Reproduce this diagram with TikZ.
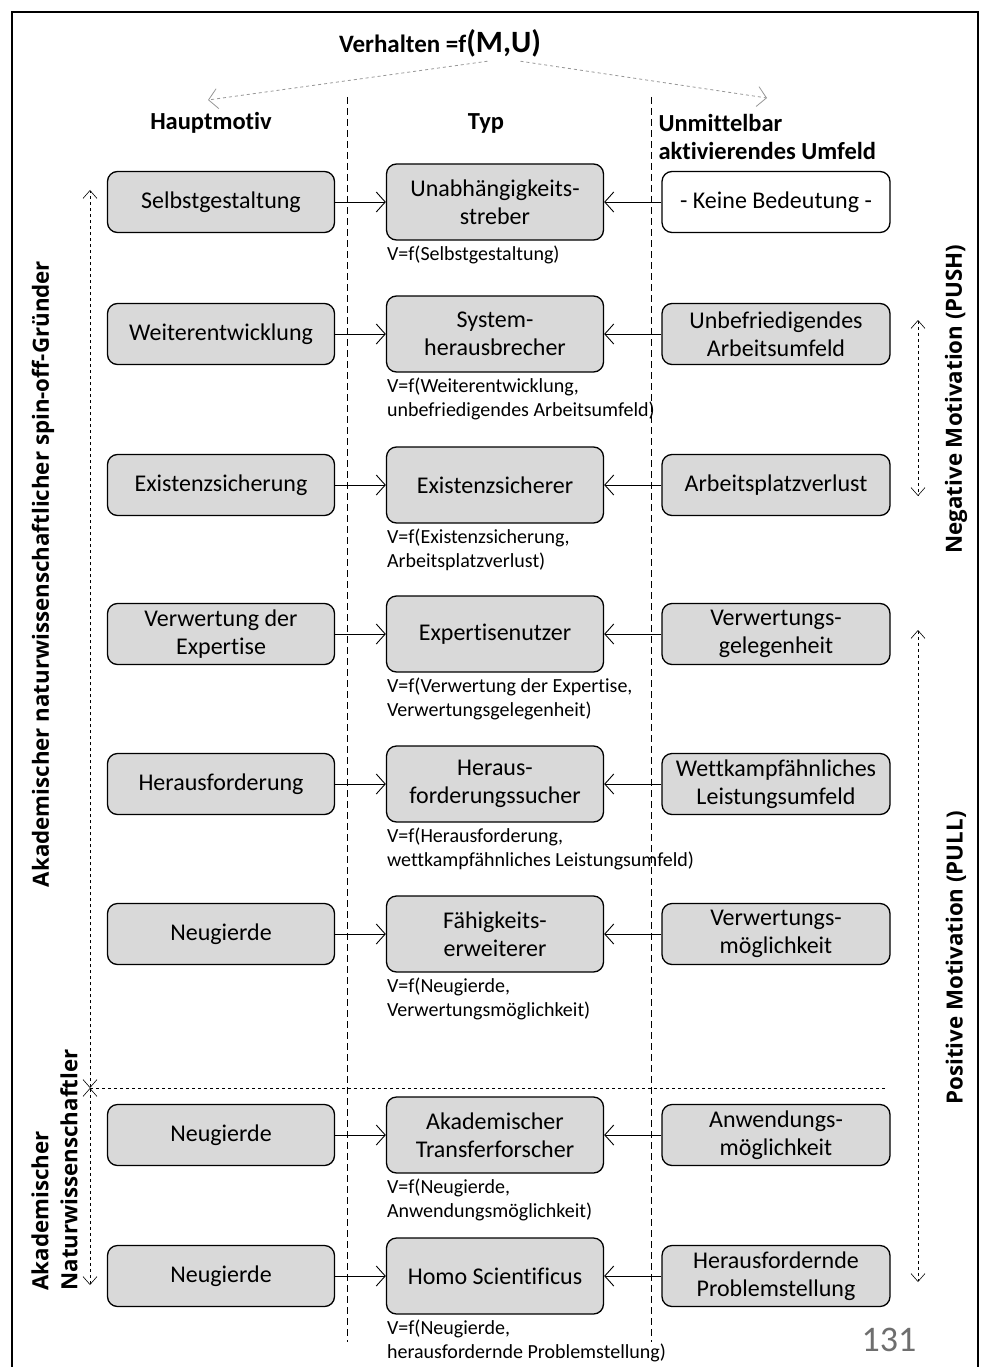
\documentclass[tikz,border=0pt]{standalone}
\usepackage{fontspec}
\setmainfont{Carlito}[Ligatures=NoCommon]
\newfontfamily\sidefont{Open Sans}
\usepackage{tikz}
\usetikzlibrary{arrows.meta, positioning}
\definecolor{boxgray}{RGB}{217, 217, 217}
\definecolor{hintgray}{RGB}{150, 150, 150}
\definecolor{pagegray}{RGB}{110, 110, 110}

\tikzset{
  motivbox/.style={draw, fill=boxgray, rounded corners=10pt, minimum width=227pt, minimum height=61pt,
    align=center, line width=1.3pt, font=\fontsize{24}{28}\selectfont},
  typbox/.style={motivbox, minimum width=217pt, minimum height=76pt},
  formula/.style={align=left, inner sep=0pt, font=\fontsize{20}{24}\selectfont},
  head/.style={font=\fontsize{24.5}{28}\selectfont\bfseries},
  sidelabel/.style={rotate=90, font=\sidefont\bfseries\fontsize{22.3}{29}\selectfont},
  feed/.style={-{Straight Barb[length=9pt, width=20pt]}, line width=0.9pt},
  rangearrow/.style={{Straight Barb[length=8pt, width=14pt]}-{Straight Barb[length=8pt, width=14pt]},
    dashed, line width=0.6pt},
  colsep/.style={dash pattern=on 7pt off 4pt, line width=0.6pt},
}

\begin{document}
\begin{tikzpicture}[x=1pt, y=-1pt]
  \useasboundingbox (0,0) rectangle (990,1367);
  % frame
  \draw[line width=1.5pt] (12,1367) -- (12,12) -- (978,12) -- (978,1367);

  % title and column heads
  \node[font=\fontsize{25}{30}\selectfont\bfseries, anchor=base] (title) at (440,53)
    {Verhalten =f{\fontsize{31}{32}\selectfont(M,U)}};
  \coordinate (motivtip) at (208,100);
  \coordinate (umfeldtip) at (767,98);
  \draw[feed, hintgray, dashed, line width=0.8pt] ([xshift=-57pt]title.south east) -- (motivtip);
  \draw[feed, hintgray, dashed, line width=0.8pt] ([xshift=-24pt]title.south east) -- (umfeldtip);
  \node[head, anchor=base] (hmotiv) at (211,130) {Hauptmotiv};
  \node[head, anchor=base] (htyp) at (486,130) {Typ};
  \node[head, anchor=west, align=left] (humfeld) at (655,137) {Unmittelbar\\aktivierendes Umfeld};

  % column separators
  \coordinate (sepAtop) at (347,97);
  \coordinate (sepAbot) at (347,1342);
  \coordinate (sepBtop) at (651,97);
  \coordinate (sepBbot) at (651,1342);
  \draw[colsep] (sepAtop) -- (sepAbot);
  \draw[colsep] (sepBtop) -- (sepBbot);

  % rows
  \foreach \i/\y/\motiv/\typ/\umfeld/\ufill/\formel in {
    1/202/Selbstgestaltung/{Unabhängigkeits-\\streber}/{- Keine Bedeutung -}/white/{V=f(Selbstgestaltung)},
    2/334/Weiterentwicklung/{System-\\herausbrecher}/{Unbefriedigendes\\Arbeitsumfeld}/boxgray/{V=f(Weiterentwicklung,\\unbefriedigendes Arbeitsumfeld)},
    3/485/Existenzsicherung/Existenzsicherer/Arbeitsplatzverlust/boxgray/{V=f(Existenzsicherung,\\Arbeitsplatzverlust)},
    4/634/{Verwertung der\\Expertise}/Expertisenutzer/{Verwertungs-\\gelegenheit}/boxgray/{V=f(Verwertung der Expertise,\\Verwertungsgelegenheit)},
    5/784/Herausforderung/{Heraus-\\forderungssucher}/{Wettkampfähnliches\\Leistungsumfeld}/boxgray/{V=f(Herausforderung,\\wettkampfähnliches Leistungsumfeld)},
    6/934/Neugierde/{Fähigkeits-\\erweiterer}/{Verwertungs-\\möglichkeit}/boxgray/{V=f(Neugierde,\\Verwertungsmöglichkeit)},
    7/1135/Neugierde/{Akademischer\\Transferforscher}/{Anwendungs-\\möglichkeit}/boxgray/{V=f(Neugierde,\\Anwendungsmöglichkeit)},
    8/1276/Neugierde/{Homo Scientificus}/{Herausfordernde\\Problemstellung}/boxgray/{V=f(Neugierde,\\herausfordernde Problemstellung)}} {
    \node[motivbox] (m\i) at (221,\y) {\motiv};
    \node[typbox] (t\i) at (495,\y) {\typ};
    \node[motivbox, fill=\ufill, minimum width=228pt] (u\i) at (776,\y) {\umfeld};
    \draw[feed] (m\i) -- (t\i);
    \draw[feed] (u\i) -- (t\i);
    \node[formula, below=5pt of t\i.south west, anchor=north west, xshift=1pt] (f\i) {\formel};
  }

  % groups on the left
  \coordinate (grouptop) at (90,190);
  \coordinate (groupcut) at (90,1088);
  \coordinate (groupbot) at (90,1285);
  \coordinate (cutend) at (885,1088);
  \draw[rangearrow] (groupcut) -- (grouptop);
  \draw[rangearrow] (groupcut) -- (groupbot);
  \draw[dashed, line width=0.6pt] (groupcut) -- (cutend);
  \node[sidelabel] (spinoff) at (43,574) {Akademischer naturwissenschaftlicher spin-off-Gründer};
  \node[sidelabel, align=left] (forscher) at (54.5,1170) {Akademischer\\Naturwissenschaftler};

  % motivation on the right
  \coordinate (pushtop) at (918,320);
  \coordinate (pushbot) at (918,496);
  \coordinate (pulltop) at (918,630);
  \coordinate (pullbot) at (918,1282);
  \draw[rangearrow] (pushtop) -- (pushbot);
  \draw[rangearrow] (pulltop) -- (pullbot);
  \node[sidelabel] (push) at (956,399) {Negative Motivation (PUSH)};
  \node[sidelabel] (pull) at (956,958) {Positive Motivation (PULL)};

  \node[text=pagegray, font=\fontsize{36}{40}\selectfont] (page) at (889,1340) {131};
\end{tikzpicture}
\end{document}
